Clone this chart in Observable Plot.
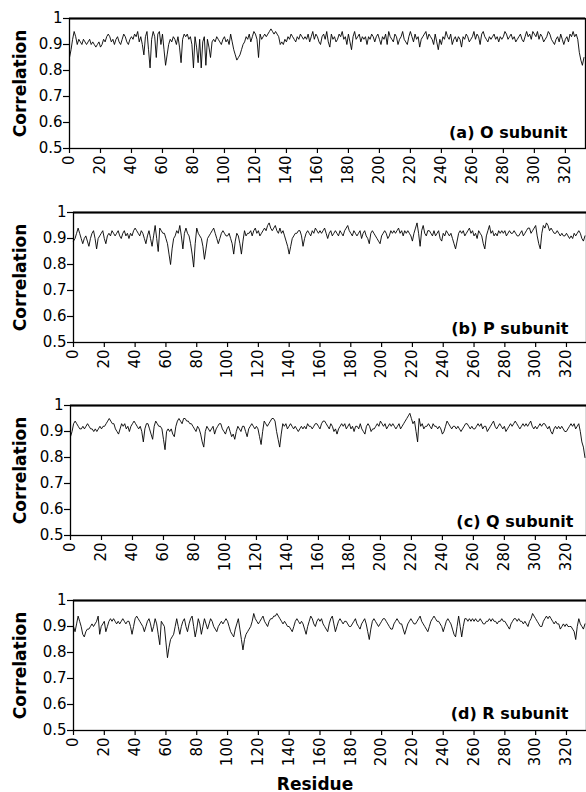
<!DOCTYPE html>
<html><head><meta charset="utf-8">
<script src="https://cdn.jsdelivr.net/npm/d3@7"></script>
<script src="https://cdn.jsdelivr.net/npm/@observablehq/plot@0.6"></script>
<style>
body{margin:0;background:#fff;}
#chart{position:relative;width:586px;height:792px;background:#fff;}
#chart svg{position:absolute;left:0;}
</style></head><body><div id="chart"></div>
<script>
const residueTicks = [0,20,40,60,80,100,120,140,160,180,200,220,240,260,280,300,320];
const correlationTicks = [0.5,0.6,0.7,0.8,0.9,1];
const panelLabels = ["(a) O subunit","(b) P subunit","(c) Q subunit","(d) R subunit"];
const yLabel = "Correlation";
const xLabel = "Residue";

const corrO = [
.85,.88,.92,.95,.93,.90,.92,.91,.90,.92,
.91,.90,.91,.92,.90,.91,.90,.89,.90,.91,
.89,.90,.92,.91,.93,.94,.93,.91,.92,.90,
.92,.93,.91,.90,.92,.94,.93,.91,.90,.92,
.93,.92,.94,.93,.95,.91,.93,.90,.86,.93,
.95,.88,.81,.92,.95,.93,.85,.94,.95,.90,
.94,.88,.82,.86,.90,.92,.91,.93,.92,.90,
.93,.89,.83,.92,.94,.93,.94,.92,.93,.90,
.81,.93,.89,.83,.92,.81,.91,.93,.82,.92,
.89,.85,.91,.92,.91,.93,.92,.91,.90,.92,
.93,.91,.92,.90,.94,.91,.88,.86,.84,.85,
.86,.88,.90,.91,.93,.92,.94,.91,.93,.95,
.94,.92,.85,.94,.92,.93,.94,.93,.94,.95,
.96,.95,.94,.95,.94,.93,.90,.91,.90,.92,
.91,.93,.92,.94,.93,.92,.91,.93,.92,.94,
.93,.92,.93,.92,.94,.91,.93,.95,.92,.94,
.93,.91,.90,.93,.94,.92,.95,.91,.89,.94,
.92,.93,.91,.92,.94,.93,.95,.92,.93,.90,
.94,.91,.88,.93,.95,.92,.93,.94,.91,.93,
.92,.93,.90,.93,.92,.94,.93,.91,.93,.94,
.92,.90,.93,.92,.94,.90,.95,.93,.92,.91,
.94,.93,.90,.92,.93,.95,.92,.91,.90,.93,
.95,.93,.91,.94,.92,.93,.89,.92,.93,.94,
.95,.92,.94,.93,.92,.90,.94,.91,.88,.92,
.90,.93,.92,.95,.93,.92,.94,.90,.92,.93,
.91,.93,.92,.89,.93,.92,.94,.93,.91,.92,
.93,.95,.92,.94,.93,.90,.94,.95,.93,.92,
.91,.93,.92,.93,.94,.92,.93,.91,.93,.92,
.93,.95,.94,.92,.93,.94,.92,.93,.91,.92,
.93,.94,.92,.91,.93,.95,.93,.94,.92,.95,
.94,.93,.95,.92,.94,.93,.91,.92,.93,.95,
.94,.92,.91,.90,.92,.93,.91,.94,.92,.90,
.92,.93,.91,.94,.93,.95,.93,.94,.92,.87,
.84,.82,.85];

const corrP = [
.89,.90,.92,.94,.92,.90,.88,.90,.91,.89,
.87,.90,.92,.93,.90,.86,.90,.91,.92,.93,
.90,.88,.91,.92,.91,.93,.92,.91,.92,.93,
.91,.90,.92,.93,.91,.92,.90,.92,.91,.93,
.94,.93,.92,.91,.93,.92,.90,.88,.91,.93,
.90,.87,.91,.95,.90,.85,.94,.93,.92,.92,
.90,.88,.84,.80,.86,.90,.91,.93,.92,.95,
.91,.86,.92,.94,.92,.91,.88,.84,.79,.88,
.94,.92,.91,.90,.87,.82,.86,.90,.91,.92,
.93,.94,.92,.90,.88,.90,.92,.93,.92,.91,
.91,.92,.90,.88,.84,.89,.92,.91,.88,.84,
.89,.93,.91,.92,.92,.93,.91,.93,.94,.92,
.93,.91,.92,.93,.94,.93,.95,.96,.94,.93,
.94,.95,.93,.92,.94,.92,.93,.91,.89,.87,
.84,.87,.90,.91,.92,.92,.93,.93,.91,.87,
.90,.92,.93,.92,.91,.93,.92,.94,.93,.92,
.93,.92,.93,.94,.92,.90,.92,.93,.91,.92,
.93,.92,.91,.93,.92,.91,.93,.94,.95,.93,
.92,.91,.93,.92,.91,.92,.93,.90,.92,.93,
.91,.90,.88,.92,.93,.92,.91,.90,.89,.88,
.91,.92,.93,.92,.90,.91,.93,.92,.93,.92,
.93,.94,.92,.93,.91,.93,.92,.93,.92,.91,
.89,.92,.94,.96,.92,.87,.93,.95,.92,.91,
.93,.93,.92,.91,.93,.91,.92,.93,.90,.89,
.92,.91,.93,.92,.91,.92,.90,.88,.86,.89,
.92,.93,.92,.93,.91,.92,.93,.94,.92,.93,
.91,.92,.90,.93,.92,.91,.88,.86,.91,.93,
.95,.92,.93,.91,.92,.91,.93,.92,.93,.92,
.93,.91,.92,.93,.92,.92,.93,.92,.91,.91,
.92,.93,.91,.92,.93,.94,.94,.92,.93,.94,
.95,.91,.88,.86,.92,.95,.94,.96,.95,.93,
.94,.93,.92,.92,.93,.92,.91,.92,.91,.91,
.92,.91,.90,.91,.90,.92,.91,.92,.93,.92,
.90,.89,.91];

const corrQ = [
.88,.90,.93,.94,.93,.92,.91,.91,.92,.91,
.92,.93,.92,.91,.91,.90,.91,.90,.91,.92,
.91,.92,.92,.93,.94,.95,.94,.93,.93,.91,
.90,.89,.91,.93,.92,.93,.91,.92,.90,.92,
.93,.94,.93,.92,.91,.92,.90,.86,.91,.93,
.93,.91,.89,.87,.92,.94,.93,.92,.92,.91,
.87,.83,.90,.91,.90,.91,.89,.88,.92,.94,
.95,.94,.93,.95,.95,.94,.94,.93,.93,.92,
.91,.90,.92,.91,.89,.86,.84,.90,.92,.91,
.90,.91,.92,.89,.91,.92,.93,.93,.91,.90,
.89,.91,.92,.90,.88,.89,.87,.90,.92,.91,
.90,.92,.92,.90,.88,.91,.92,.93,.92,.91,
.92,.91,.88,.85,.90,.94,.93,.92,.93,.94,
.95,.95,.94,.90,.87,.84,.89,.93,.92,.93,
.91,.92,.93,.92,.91,.92,.91,.90,.91,.92,
.91,.92,.91,.93,.92,.92,.91,.92,.93,.93,
.92,.91,.93,.94,.94,.93,.92,.91,.93,.92,
.90,.91,.89,.91,.92,.93,.92,.93,.91,.92,
.93,.91,.92,.90,.92,.92,.91,.93,.91,.90,
.89,.92,.93,.92,.90,.91,.91,.92,.93,.92,
.94,.93,.92,.93,.91,.92,.93,.92,.93,.92,
.91,.92,.93,.91,.92,.93,.94,.95,.96,.97,
.95,.93,.94,.90,.86,.95,.92,.93,.91,.92,
.92,.93,.92,.91,.93,.92,.92,.91,.92,.91,
.89,.90,.92,.94,.93,.92,.91,.92,.92,.91,
.92,.91,.90,.91,.92,.93,.93,.92,.91,.92,
.91,.91,.92,.93,.92,.93,.91,.92,.92,.90,
.91,.92,.93,.94,.92,.91,.92,.93,.92,.91,
.92,.90,.91,.92,.93,.92,.93,.94,.93,.92,
.91,.92,.93,.92,.93,.92,.93,.94,.92,.91,
.92,.91,.92,.93,.92,.93,.93,.92,.91,.92,
.90,.89,.91,.92,.91,.92,.91,.92,.91,.90,
.90,.91,.92,.93,.92,.93,.91,.92,.93,.90,
.86,.84,.80];

const corrR = [
.90,.88,.91,.94,.92,.90,.87,.86,.88,.89,
.89,.90,.91,.90,.91,.92,.94,.87,.90,.91,
.92,.88,.90,.92,.93,.92,.93,.92,.91,.92,
.91,.92,.93,.92,.91,.92,.92,.90,.87,.90,
.93,.94,.93,.92,.91,.90,.88,.90,.92,.93,
.91,.88,.90,.93,.91,.87,.83,.92,.91,.90,
.84,.78,.82,.85,.86,.87,.90,.93,.90,.87,
.90,.92,.93,.90,.88,.91,.93,.94,.90,.86,
.89,.93,.91,.87,.90,.93,.91,.89,.91,.93,
.92,.90,.89,.88,.90,.91,.92,.91,.92,.93,
.92,.90,.88,.87,.86,.89,.91,.93,.89,.85,
.81,.85,.87,.88,.89,.90,.92,.95,.93,.92,
.91,.92,.93,.94,.92,.91,.90,.92,.93,.93,
.94,.94,.95,.94,.93,.92,.91,.92,.91,.90,
.90,.89,.88,.90,.92,.93,.92,.91,.92,.91,
.89,.87,.90,.92,.94,.93,.91,.90,.92,.93,
.92,.93,.91,.90,.89,.88,.91,.93,.94,.91,
.88,.90,.92,.93,.92,.91,.92,.92,.91,.90,
.90,.91,.92,.93,.91,.90,.89,.91,.92,.93,
.91,.88,.85,.89,.92,.93,.92,.91,.90,.91,
.92,.93,.93,.92,.91,.90,.89,.89,.91,.92,
.93,.92,.91,.91,.89,.87,.89,.91,.92,.93,
.92,.91,.91,.92,.93,.94,.92,.91,.90,.89,
.88,.90,.92,.93,.94,.93,.92,.92,.91,.90,
.88,.90,.92,.93,.92,.91,.89,.87,.86,.90,
.94,.90,.86,.90,.93,.93,.92,.93,.92,.93,
.92,.93,.92,.92,.93,.92,.91,.91,.92,.92,
.93,.92,.93,.92,.92,.91,.92,.92,.93,.92,
.92,.91,.90,.89,.91,.92,.93,.93,.92,.93,
.92,.92,.91,.92,.91,.90,.92,.93,.95,.94,
.93,.92,.91,.90,.90,.92,.93,.94,.93,.94,
.93,.92,.91,.92,.91,.91,.89,.90,.91,.90,
.91,.90,.90,.90,.89,.88,.85,.90,.93,.91,
.90,.89,.91];

const seriesList = [corrO, corrP, corrQ, corrR];

const layout = [
  {top:0,   h:194, ml:69, mr:1, ldx:-18, ldy:-11},
  {top:194, h:194, ml:73, mr:0, ldx:-18, ldy:-9},
  {top:387, h:194, ml:70, mr:0, ldx:-13, ldy:-9},
  {top:582, h:210, ml:73, mr:0, ldx:-18, ldy:-12}
];

const chart = document.getElementById("chart");
seriesList.forEach((vals, k) => {
  const L = layout[k];
  const data = vals.map((v, i) => ({residue: i, corr: v}));
  const marks = [
    Plot.axisY(correlationTicks, {tickSize: 6, tickPadding: 1, tickFormat: d => String(d), label: null, fontSize: 15, strokeWidth: 1.2}),
    Plot.axisX(residueTicks, {tickRotate: -90, tickSize: 5, tickPadding: 2, label: null, fontSize: 15, strokeWidth: 1.2}),
    Plot.frame({stroke: "#000", strokeWidth: 1.3}),
    Plot.ruleY([1], {stroke: "#000", strokeWidth: 2}),
    Plot.line(data, {x: "residue", y: "corr", stroke: "#000", strokeWidth: 0.9}),
    Plot.text([panelLabels[k]], {frameAnchor: "bottom-right", textAnchor: "end", lineAnchor: "bottom", dx: L.ldx, dy: L.ldy, fontWeight: "bold", fontSize: 16, fill: "#000"}),
    Plot.text([yLabel], {frameAnchor: "left", textAnchor: "middle", lineAnchor: "middle", rotate: -90, dx: 20 - L.ml, fontWeight: "bold", fontSize: 17, fill: "#000"})
  ];
  if (k === 3) {
    marks.push(Plot.text([xLabel], {frameAnchor: "bottom", textAnchor: "middle", lineAnchor: "bottom", dy: 59, dx: -15, fontWeight: "bold", fontSize: 17, fill: "#000"}));
  }
  const svg = Plot.plot({
    width: 586, height: L.h,
    marginTop: 18, marginBottom: L.h - 148, marginLeft: L.ml, marginRight: L.mr,
    style: {fontFamily: "'DejaVu Sans', sans-serif", color: "#000", background: "transparent", overflow: "visible"},
    x: {domain: [0, 333]},
    y: {domain: [0.5, 1]},
    marks
  });
  svg.style.top = L.top + "px";
  chart.appendChild(svg);
});
</script></body></html>
